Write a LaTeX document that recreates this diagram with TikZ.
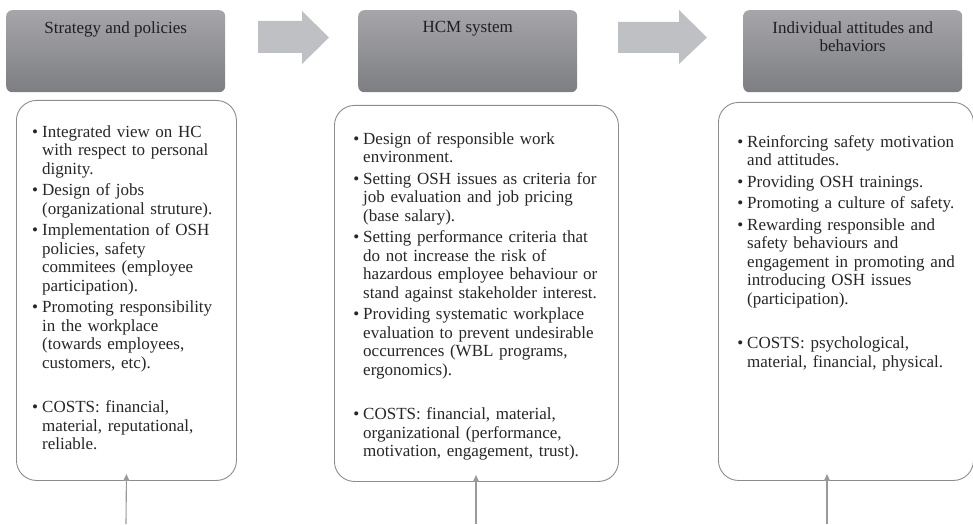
\documentclass[tikz,border=0pt]{standalone}
\usepackage{fontspec}
\setmainfont{Liberation Serif}
\usepackage{enumitem}
\usetikzlibrary{positioning,arrows.meta}

\definecolor{headtop}{HTML}{A6A6AA}
\definecolor{headbot}{HTML}{7D7E82}
\definecolor{flowgray}{HTML}{BFC0C4}
\definecolor{framegray}{HTML}{8C8C8C}
\definecolor{linegray}{HTML}{9A9A9A}

\newlist{oshlist}{itemize}{1}
\setlist[oshlist]{label=\textbullet, leftmargin=11pt, labelsep=4pt, itemsep=3pt, parsep=0pt, topsep=0pt, partopsep=0pt}
\newcommand{\costgap}{\vspace{23pt}}

\begin{document}
\begin{tikzpicture}[x=1pt,y=-1pt,
  head/.style={rectangle, rounded corners=6pt, top color=headtop, bottom color=headbot, minimum width=219pt, minimum height=82pt, inner sep=0pt, anchor=north west},
  headtxt/.style={inner sep=0pt, align=center, font=\fontsize{17}{18.5}\selectfont, text=black!88},
  panel/.style={rectangle, draw=framegray, line width=0.9pt, rounded corners=20pt, inner sep=0pt, anchor=north west},
  paneltxt/.style={inner sep=0pt, anchor=north west, text width=#1, align=left, font=\fontsize{17}{18.5}\selectfont, text=black!85},
  flow/.style={fill=flowgray},
  uparrow/.style={draw=linegray, line width=1.1pt, -{Triangle[width=6pt,length=7pt]}}
]
\useasboundingbox (0,0) rectangle (973,524);

% headers
\node[head] (hd1) at (6,10) {};
\node[head] (hd2) at (358,10) {};
\node[head] (hd3) at (743,10) {};
\node[headtxt, below=11.4pt of hd1.north] (t1) {Strategy and policies};
\node[headtxt, below=11.4pt of hd2.north] (t2) {HCM system};
\node[headtxt, below=11.4pt of hd3.north] (t3) {Individual attitudes and\\ behaviors};

% flow arrows
\fill[flow] (258,21) -- (302,21) -- (302,11) -- (329,37.5) -- (302,64) -- (302,53) -- (258,53) -- cycle;
\fill[flow] (618,22) -- (679,22) -- (679,10) -- (707,37.5) -- (679,64) -- (679,53) -- (618,53) -- cycle;

% panels
\node[panel, minimum width=220pt, minimum height=380pt] (p1) at (16,100) {};
\node[panel, minimum width=284pt, minimum height=376pt] (p2) at (334,105) {};
\node[panel, minimum width=255pt, minimum height=378pt] (p3) at (718,102) {};

\node[paneltxt=195pt] (b1) at (31,118.4) {%
\begin{oshlist}
\item Integrated view on HC\\ with respect to personal\\ dignity.
\item Design of jobs\\ (organizational struture).
\item Implementation of OSH\\ policies, safety\\ commitees (employee\\ participation).
\item Promoting responsibility\\ in the workplace\\ (towards employees,\\ customers, etc).\costgap
\item COSTS: financial,\\ material, reputational,\\ reliable.
\end{oshlist}};

\node[paneltxt=255pt] (b2) at (352,125.4) {%
\begin{oshlist}
\item Design of responsible work\\ environment.
\item Setting OSH issues as criteria for\\ job evaluation and job pricing\\ (base salary).
\item Setting performance criteria that\\ do not increase the risk of\\ hazardous employee behaviour or\\ stand against stakeholder interest.
\item Providing systematic workplace\\ evaluation to prevent undesirable\\ occurrences (WBL programs,\\ ergonomics).\costgap
\item COSTS: financial, material,\\ organizational (performance,\\ motivation, engagement, trust).
\end{oshlist}};

\node[paneltxt=235pt] (b3) at (736,128.4) {%
\begin{oshlist}
\item Reinforcing safety motivation\\ and attitudes.
\item Providing OSH trainings.
\item Promoting a culture of safety.
\item Rewarding responsible and\\ safety behaviours and\\ engagement in promoting and\\ introducing OSH issues\\ (participation).\costgap
\item COSTS: psychological,\\ material, financial, physical.
\end{oshlist}};

% inputs from below
\coordinate (s1) at (126,524);
\coordinate (s2) at (476,524);
\coordinate (s3) at (827,524);
\draw[uparrow] (s1) -- ([yshift=7pt]p1.south);
\draw[uparrow] (s2) -- ([yshift=7pt]s2 |- p2.south);
\draw[uparrow] (s3) -- ([yshift=7pt]s3 |- p3.south);

\end{tikzpicture}
\end{document}
